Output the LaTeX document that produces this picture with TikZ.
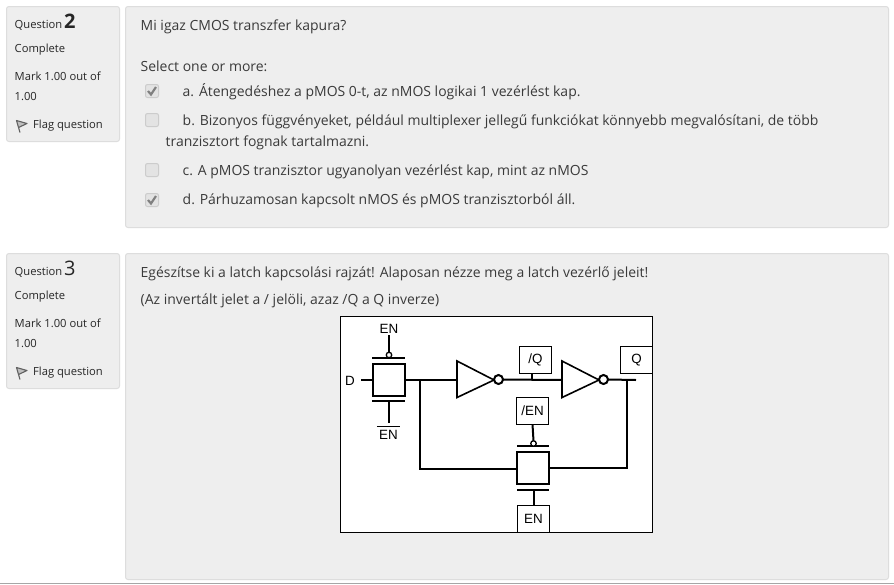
\documentclass[tikz,border=0pt]{standalone}
\usepackage{fontspec}
\setmainfont{Open Sans}
\newfontfamily\schemfont{Liberation Sans}
\usetikzlibrary{calc}
\definecolor{panelbg}{HTML}{EEEEEE}
\definecolor{panelln}{HTML}{DDDDDD}
\definecolor{bodytxt}{HTML}{3A3A3A}
\tikzset{
  panel/.style={draw=panelln,fill=panelbg,line width=1pt,rounded corners=2.5pt},
  qtext/.style={anchor=base west,inner sep=0pt,text=bodytxt,font=\fontsize{13.97}{16}\selectfont},
  side/.style={anchor=base west,inner sep=0pt,text=black!85,font=\fontsize{11.2}{13}\selectfont},
  chkbox/.style={draw=black!20,fill=black!11,rounded corners=2pt,minimum size=13pt,inner sep=0pt,line width=1pt},
  tick/.style={draw=black!50,line width=2.2pt},
  flagic/.style={draw=black!62,fill=black!25,line width=1.1pt,line join=round},
  wire/.style={line width=2pt},
  tgate/.style={draw=black,line width=2pt,minimum size=32pt,inner sep=0pt,outer sep=0pt},
  lblbox/.style={draw=black,fill=white,line width=1pt,inner sep=0pt,outer sep=0pt,minimum width=32.5pt,minimum height=27pt,font=\schemfont\fontsize{13.4}{15}\selectfont},
  lbl/.style={inner sep=0pt,outer sep=1.5pt,font=\schemfont\fontsize{13.4}{15}\selectfont},
  bub/.style={circle,draw=black,fill=white,line width=1.3pt,inner sep=0pt,outer sep=0pt,minimum size=5.5pt},
  invbub/.style={circle,draw=black,fill=white,line width=2pt,inner sep=0pt,outer sep=0pt,minimum size=9pt},
  inv/.style={draw=black,line width=1.6pt,line join=miter},
}
\begin{document}
\begin{tikzpicture}[x=1pt,y=-1pt]
  \useasboundingbox (0,0) rectangle (894,584);
  \fill[white] (0,0) rectangle (894,584);
  % bottom edge
  \draw[black!35,line width=1pt] (0,583.5) -- (894,583.5);
  % panels
  \draw[panel] (6.5,6.5) rectangle (119.5,141.5);
  \draw[panel] (125.5,6.5) rectangle (888.5,227.5);
  \draw[panel] (6.5,253.5) rectangle (119.5,388.5);
  \draw[panel] (125.5,253.5) rectangle (888.5,579.5);
  % sidebars
  \foreach \num/\dig/\dy in {2/\textbf{2}/0,3/3/247}{
    \begin{scope}[shift={(0,\dy)}]
      \node[side] (qn\num) at (14.5,28) {Question\,\fontsize{20}{22}\selectfont\dig};
      \node[side] (st\num) at (14.5,52) {Complete};
      \node[side] (mk\num) at (14.5,80) {Mark 1.00 out of};
      \node[side] (mx\num) at (14.5,100) {1.00};
      \node[side] (fl\num) at (33,128) {Flag question};
      \draw[flagic] (20,132.5) -- (16.5,120.5) -- (27,123.5) -- (18.5,127.5);
    \end{scope}
  }
  % question 2
  \node[qtext] (q2) at (140.5,30) {Mi igaz CMOS transzfer kapura?};
  \node[qtext] (sel) at (140.5,71) {Select one or more:};
  \node[chkbox] (chka) at (152,91) {};
  \node[chkbox] (chkb) at (152,120) {};
  \node[chkbox] (chkc) at (152,170) {};
  \node[chkbox] (chkd) at (152,200) {};
  \draw[tick] (148,91) -- (151,94.5) -- (156,87);
  \draw[tick] (148,200) -- (151,203.5) -- (156,196);
  \node[qtext] (ansa) at (182.5,96) {a. Átengedéshez a pMOS 0-t, az nMOS logikai 1 vezérlést kap.};
  \node[qtext] (ansb) at (182.5,125) {b. Bizonyos függvényeket, például multiplexer jellegű funkciókat könnyebb megvalósítani, de több};
  \node[qtext] (ansbb) at (165.5,146) {tranzisztort fognak tartalmazni.};
  \node[qtext] (ansc) at (182.5,175) {c. A pMOS tranzisztor ugyanolyan vezérlést kap, mint az nMOS};
  \node[qtext] (ansd) at (182.5,204) {d. Párhuzamosan kapcsolt nMOS és pMOS tranzisztorból áll.};
  % question 3
  \node[qtext] (q3) at (140.5,277) {Egészítse ki a latch kapcsolási rajzát! Alaposan nézze meg a latch vezérlő jeleit!};
  \node[qtext] (q3b) at (140.5,304) {(Az invertált jelet a / jelöli, azaz /Q a Q inverze)};
  % latch frame
  \draw[black,fill=white,line width=1pt] (340.5,316.5) rectangle (652.5,532.5);
  % transfer gates
  \node[tgate] (tga) at (388.5,379.5) {};
  \node[tgate] (tgb) at (533,468) {};
  % gate bars
  \coordinate (barAtl) at (372,357.5); \coordinate (barAtr) at (405,357.5);
  \coordinate (barAbl) at (372,400.5); \coordinate (barAbr) at (405,400.5);
  \coordinate (barBtl) at (517,446);   \coordinate (barBtr) at (549,446);
  \coordinate (barBbl) at (517,490);   \coordinate (barBbr) at (549,490);
  \draw[wire] (barAtl) -- (barAtr);
  \draw[wire] (barAbl) -- (barAbr);
  \draw[wire] (barBtl) -- (barBtr);
  \draw[wire] (barBbl) -- (barBbr);
  % labels
  \node[lbl] (ena) at (389,329) {EN};
  \node[lbl,anchor=base] (enb) at (388.5,439) {$\overline{\mbox{\,\raisebox{0pt}[11pt]{EN}\,}}$};
  \node[lbl] (dd) at (350,380.5) {D};
  \node[lblbox] (qbar) at (535.5,360) {/Q};
  \node[lblbox] (qq) at (636.5,360) {Q};
  \node[lblbox] (enbar) at (532.5,411) {/EN};
  \node[lblbox] (enc) at (533.5,519) {EN};
  % gate bubbles
  \node[bub] (buba) at (389,355) {};
  \node[bub] (bubb) at (533.5,443.5) {};
  % inverters
  \coordinate (inva) at (457,380);
  \coordinate (invb) at (562,380);
  \draw[inv] (inva) -- (457,361) -- (494,380) -- (457,397.5) -- cycle;
  \draw[inv] (invb) -- (562,361) -- (599,380) -- (562,397.5) -- cycle;
  \node[invbub] (boa) at (498.5,379.5) {};
  \node[invbub] (bob) at (603.5,379.5) {};
  % wires
  \coordinate (din) at (361,380);
  \coordinate (tapl) at (420,380);
  \coordinate (tapq) at (532,380);
  \coordinate (tapr) at (627,380);
  \coordinate (qend) at (636,380);
  \coordinate (fbl) at (420,468.5);
  \coordinate (fbr) at (627,468);
  \coordinate (enbtop) at (389,423);
  \draw[wire] (din) -- (din -| tga.west);
  \draw[wire] (tapl -| tga.east) -- (inva);
  \draw[wire] (boa.east) -- (invb);
  \draw[wire] (bob.east) -- (qend);
  \draw[wire] (tapq) -- (qbar.south -| tapq);
  \draw[wire] (tapl) -- (fbl) -- (fbl -| tgb.west);
  \draw[wire] (tapr) -- (fbr) -- (fbr -| tgb.east);
  \draw[wire] (ena.south) -- (buba.north);
  \draw[wire] (buba.south |- barAbr) -- (enbtop);
  \draw[wire] (enbar.south) -- (bubb.north);
  \draw[wire] (bubb.south |- barBbr) -- (enc.north -| bubb.south);
\end{tikzpicture}
\end{document}
